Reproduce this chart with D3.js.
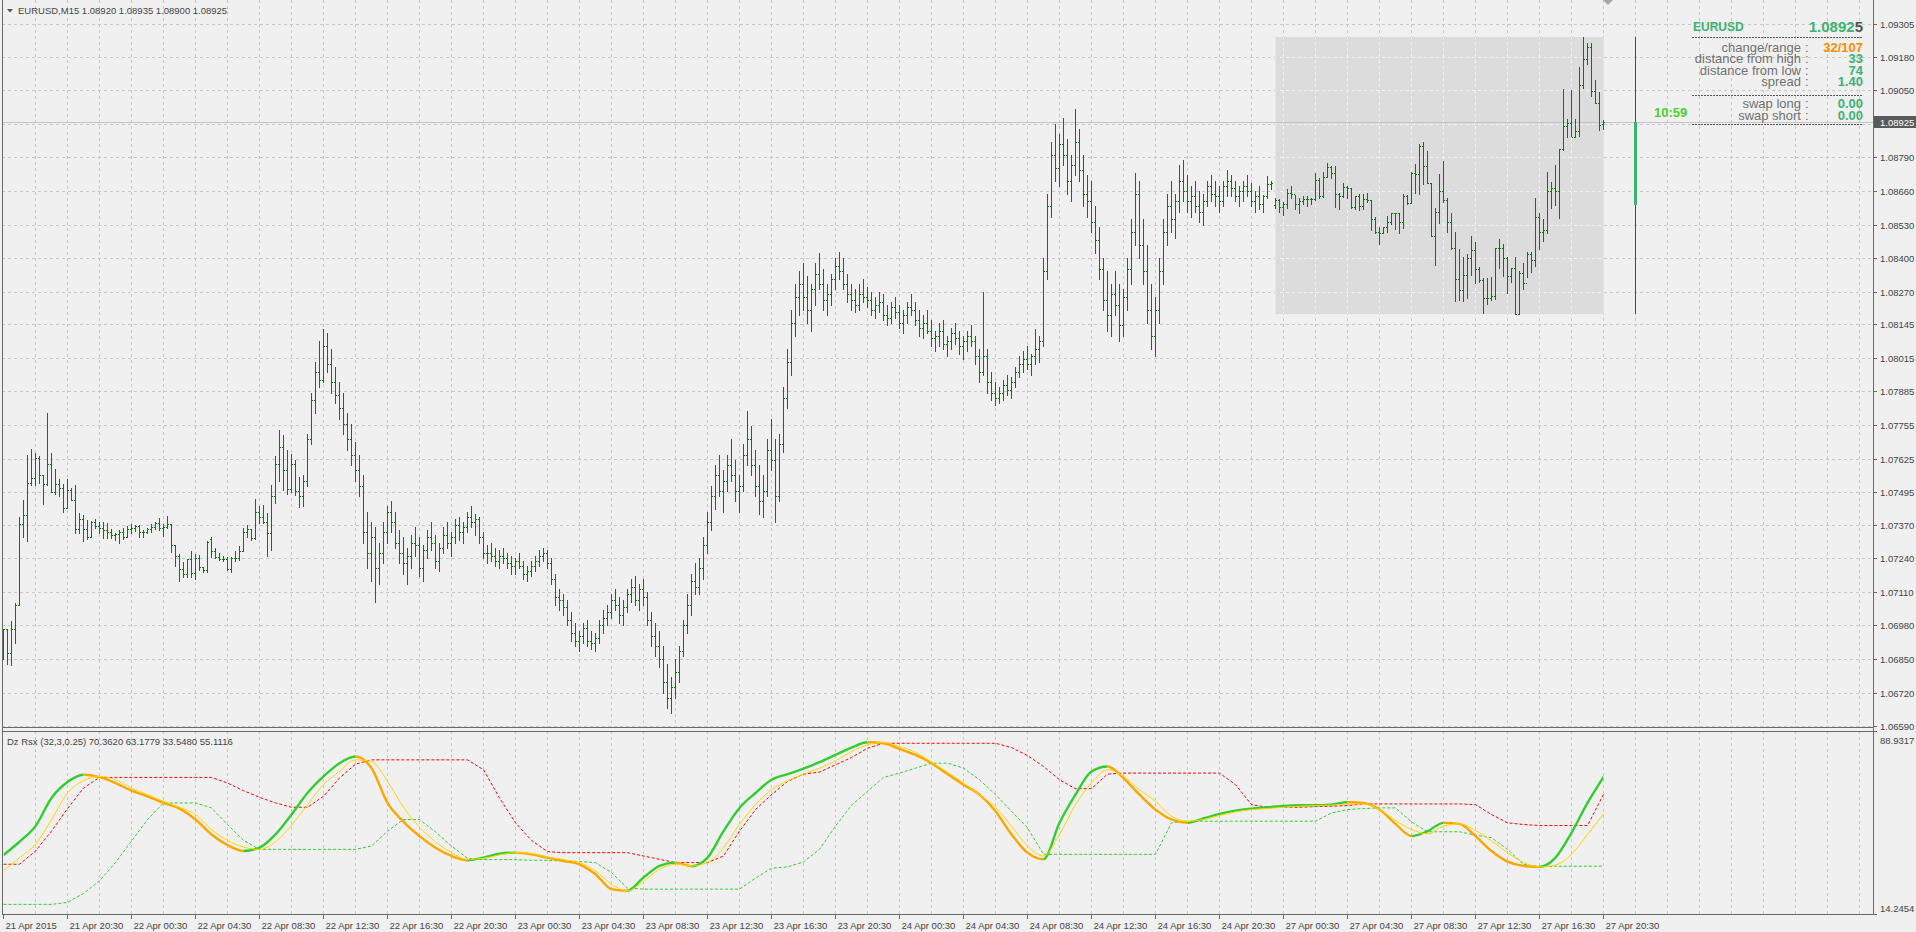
<!DOCTYPE html>
<html><head><meta charset="utf-8">
<script src="https://cdn.jsdelivr.net/npm/d3@7"></script>
<style>html,body{margin:0;padding:0;background:#f0f0f0;overflow:hidden}svg{display:block}</style>
</head><body><svg id="c" width="1916" height="932"></svg>
<script>
// ---------- DATA ----------
const symbol = "EURUSD,M15";
const lastOHLC = [1.08920, 1.08935, 1.08900, 1.08925];
const priceTicks = ["1.09305","1.09180","1.09050","1.08920","1.08790","1.08660","1.08530","1.08400","1.08270","1.08145","1.08015","1.07885","1.07755","1.07625","1.07495","1.07370","1.07240","1.07110","1.06980","1.06850","1.06720","1.06590"];
const timeLabels = ["21 Apr 2015","21 Apr 20:30","22 Apr 00:30","22 Apr 04:30","22 Apr 08:30","22 Apr 12:30","22 Apr 16:30","22 Apr 20:30","23 Apr 00:30","23 Apr 04:30","23 Apr 08:30","23 Apr 12:30","23 Apr 16:30","23 Apr 20:30","24 Apr 00:30","24 Apr 04:30","24 Apr 08:30","24 Apr 12:30","24 Apr 16:30","24 Apr 20:30","27 Apr 00:30","27 Apr 04:30","27 Apr 08:30","27 Apr 12:30","27 Apr 16:30","27 Apr 20:30"];

// M15 bars, 21 Apr 16:30 .. 27 Apr 20:30 (401 bars)
const open = [
1.06870,1.06965,1.06872,1.06965,1.07057,1.07372,1.07407,1.07532,1.07549,1.07626,1.07562,1.07527,1.07603,1.07497,1.07526,1.07513,1.07433,1.07504,1.07465,1.07352,1.07390,1.07352,1.07323,1.07379,1.07366,1.07358,1.07349,1.07340,1.07330,1.07334,1.07340,1.07320,1.07352,1.07358,1.07365,1.07340,1.07343,1.07352,1.07362,1.07375,1.07358,1.07362,1.07371,1.07291,1.07249,1.07198,1.07178,1.07236,1.07182,1.07240,1.07204,1.07195,1.07314,1.07268,1.07246,1.07236,1.07236,1.07198,1.07240,1.07240,1.07269,1.07340,1.07352,1.07317,1.07418,1.07401,1.07378,1.07336,1.07481,1.07603,1.07669,1.07581,1.07507,1.07603,1.07501,
1.07480,1.07540,1.07700,1.07850,1.07960,1.07930,1.08060,1.07990,1.07920,1.07870,
1.07820,1.07760,1.07700,1.07640,1.07580,1.07520,1.07340,1.07260,1.07320,1.07200,
1.07260,1.07340,1.07420,1.07380,1.07300,1.07260,1.07220,1.07250,1.07300,1.07290,
1.07200,1.07270,1.07320,1.07300,1.07230,1.07280,1.07330,1.07300,1.07320,1.07370,
1.07340,1.07360,1.07400,1.07380,1.07390,1.07320,1.07260,1.07260,1.07250,1.07230,
1.07250,1.07240,1.07220,1.07210,1.07230,1.07210,1.07180,1.07190,1.07210,1.07230,
1.07250,1.07260,1.07220,1.07160,1.07090,1.07080,1.07050,1.07000,1.06950,1.06920,
1.06940,1.06970,1.06920,1.06910,1.06930,1.06980,1.07010,1.07030,1.07080,1.07060,
1.07020,1.07050,1.07100,1.07130,1.07080,1.07120,1.07090,1.07000,1.06940,1.06900,
1.06850,1.06760,1.06700,1.06740,1.06800,1.06880,1.06980,1.07060,1.07150,1.07130,
1.07200,1.07290,1.07380,1.07480,1.07560,1.07500,1.07540,1.07600,1.07560,1.07500,
1.07520,1.07640,1.07700,1.07600,1.07520,1.07460,1.07500,1.07660,1.07620,1.07480,
1.07680,1.07860,1.08000,1.08150,1.08250,1.08300,1.08250,1.08200,1.08280,1.08340,
1.08300,1.08240,1.08260,1.08320,1.08370,1.08350,1.08300,1.08260,1.08240,1.08220,
1.08260,1.08250,1.08240,1.08200,1.08220,1.08230,1.08180,1.08170,1.08210,1.08190,
1.08150,1.08180,1.08210,1.08200,1.08160,1.08130,1.08150,1.08120,1.08090,1.08100,
1.08120,1.08070,1.08080,1.08110,1.08090,1.08060,1.08080,1.08100,1.08080,1.08020,
1.07960,1.08020,1.07920,1.07880,1.07860,1.07880,1.07910,1.07890,1.07920,1.07960,
1.07990,1.08010,1.07990,1.08020,1.08050,1.08080,1.08350,1.08600,1.08800,1.08750,
1.08840,1.08800,1.08700,1.08760,1.08850,1.08740,1.08650,1.08620,1.08540,1.08470,
1.08360,1.08240,1.08180,1.08260,1.08220,1.08140,1.08250,1.08360,1.08500,1.08650,
1.08450,1.08350,1.08200,1.08100,1.08200,1.08350,1.08500,1.08600,1.08550,1.08620,
1.08700,1.08660,1.08620,1.08640,1.08600,1.08580,1.08620,1.08680,1.08650,1.08640,
1.08620,1.08680,1.08700,1.08670,1.08640,1.08660,1.08680,1.08660,1.08620,1.08640,
1.08610,1.08640,1.08687,1.08605,1.08625,1.08597,1.08609,1.08651,1.08647,1.08609,1.08622,1.08628,1.08629,1.08629,1.08702,1.08640,1.08713,1.08751,1.08728,1.08647,1.08640,1.08677,1.08670,1.08597,1.08640,1.08603,1.08628,1.08625,1.08550,1.08500,1.08496,1.08519,1.08541,1.08573,1.08573,1.08539,1.08642,1.08612,1.08728,1.08724,1.08835,1.08758,1.08689,1.08486,1.08577,1.08661,1.08625,1.08539,1.08438,1.08319,1.08277,1.08335,1.08399,1.08432,1.08357,1.08315,1.08247,1.08245,1.08254,1.08438,1.08438,1.08402,1.08331,1.08361,1.08185,1.08344,1.08303,1.08415,1.08393,1.08558,1.08500,1.08509,1.08660,1.08670,1.08660,1.08821,1.08911,1.08921,1.08870,1.08892,1.09070,1.09169,1.09215,1.09048,1.08999,1.08920];
const high = [
1.06965,1.06965,1.06997,1.07066,1.07401,1.07465,1.07639,1.07662,1.07646,1.07635,1.07562,1.07802,1.07647,1.07585,1.07545,1.07526,1.07546,1.07513,1.07523,1.07415,1.07405,1.07388,1.07384,1.07392,1.07379,1.07379,1.07375,1.07353,1.07339,1.07349,1.07358,1.07366,1.07371,1.07369,1.07369,1.07349,1.07358,1.07371,1.07378,1.07397,1.07371,1.07403,1.07372,1.07291,1.07255,1.07224,1.07237,1.07266,1.07255,1.07253,1.07204,1.07307,1.07320,1.07278,1.07259,1.07250,1.07246,1.07246,1.07268,1.07285,1.07358,1.07369,1.07353,1.07469,1.07442,1.07446,1.07414,1.07521,1.07635,1.07736,1.07717,1.07659,1.07643,1.07620,1.07552,
1.07560,1.07720,1.07880,1.08000,1.08080,1.08126,1.08110,1.08050,1.07980,1.07920,
1.07880,1.07800,1.07760,1.07690,1.07640,1.07560,1.07420,1.07380,1.07360,1.07300,
1.07380,1.07440,1.07460,1.07420,1.07350,1.07320,1.07280,1.07330,1.07360,1.07320,
1.07290,1.07350,1.07380,1.07330,1.07300,1.07360,1.07380,1.07340,1.07390,1.07400,
1.07380,1.07420,1.07440,1.07410,1.07400,1.07340,1.07290,1.07300,1.07280,1.07270,
1.07280,1.07260,1.07250,1.07240,1.07260,1.07230,1.07210,1.07230,1.07250,1.07270,
1.07280,1.07270,1.07240,1.07180,1.07120,1.07100,1.07080,1.07030,1.06990,1.06960,
1.06990,1.07000,1.06960,1.06950,1.07000,1.07040,1.07060,1.07100,1.07120,1.07090,
1.07080,1.07120,1.07160,1.07170,1.07140,1.07160,1.07110,1.07030,1.06990,1.06960,
1.06900,1.06830,1.06780,1.06850,1.06900,1.07000,1.07100,1.07180,1.07220,1.07240,
1.07320,1.07420,1.07520,1.07600,1.07640,1.07580,1.07640,1.07700,1.07620,1.07560,
1.07680,1.07810,1.07750,1.07660,1.07600,1.07560,1.07700,1.07780,1.07700,1.07720,
1.07900,1.08050,1.08200,1.08300,1.08350,1.08380,1.08330,1.08300,1.08380,1.08420,
1.08360,1.08300,1.08340,1.08400,1.08424,1.08400,1.08340,1.08300,1.08280,1.08300,
1.08320,1.08290,1.08270,1.08250,1.08270,1.08260,1.08220,1.08230,1.08250,1.08220,
1.08200,1.08230,1.08260,1.08230,1.08200,1.08180,1.08200,1.08160,1.08120,1.08150,
1.08160,1.08100,1.08130,1.08150,1.08120,1.08100,1.08120,1.08140,1.08100,1.08050,
1.08268,1.08050,1.07960,1.07920,1.07900,1.07930,1.07950,1.07940,1.07980,1.08020,
1.08040,1.08060,1.08030,1.08126,1.08100,1.08400,1.08650,1.08850,1.08920,1.08880,
1.08944,1.08860,1.08800,1.08977,1.08900,1.08800,1.08720,1.08700,1.08600,1.08520,
1.08400,1.08350,1.08300,1.08350,1.08300,1.08280,1.08400,1.08550,1.08730,1.08700,
1.08550,1.08450,1.08300,1.08250,1.08400,1.08550,1.08650,1.08700,1.08650,1.08760,
1.08780,1.08720,1.08680,1.08700,1.08660,1.08650,1.08700,1.08720,1.08700,1.08680,
1.08700,1.08740,1.08720,1.08700,1.08680,1.08700,1.08720,1.08690,1.08660,1.08680,
1.08644,1.08718,1.08698,1.08634,1.08628,1.08618,1.08666,1.08679,1.08644,1.08634,1.08642,1.08640,1.08634,1.08731,1.08711,1.08735,1.08767,1.08758,1.08758,1.08653,1.08692,1.08680,1.08670,1.08642,1.08648,1.08648,1.08651,1.08625,1.08558,1.08519,1.08522,1.08563,1.08576,1.08576,1.08576,1.08648,1.08644,1.08732,1.08764,1.08840,1.08848,1.08814,1.08692,1.08595,1.08726,1.08776,1.08631,1.08576,1.08501,1.08435,1.08403,1.08416,1.08486,1.08464,1.08367,1.08325,1.08325,1.08326,1.08438,1.08474,1.08455,1.08403,1.08361,1.08403,1.08350,1.08380,1.08423,1.08423,1.08631,1.08576,1.08550,1.08735,1.08693,1.08760,1.08822,1.09054,1.08938,1.09050,1.08938,1.09138,1.09255,1.09231,1.09231,1.09089,1.09044,1.08935];
const low = [
1.06849,1.06831,1.06825,1.06911,1.07057,1.07321,1.07308,1.07521,1.07521,1.07532,1.07449,1.07521,1.07494,1.07488,1.07482,1.07418,1.07433,1.07463,1.07336,1.07336,1.07308,1.07314,1.07323,1.07356,1.07339,1.07317,1.07317,1.07317,1.07311,1.07300,1.07313,1.07323,1.07336,1.07345,1.07323,1.07323,1.07336,1.07340,1.07353,1.07347,1.07327,1.07356,1.07263,1.07211,1.07153,1.07166,1.07166,1.07166,1.07160,1.07195,1.07186,1.07186,1.07246,1.07240,1.07233,1.07227,1.07195,1.07188,1.07227,1.07233,1.07269,1.07323,1.07311,1.07314,1.07375,1.07375,1.07250,1.07272,1.07452,1.07540,1.07504,1.07488,1.07497,1.07485,1.07436,
1.07440,1.07520,1.07680,1.07800,1.07900,1.07920,1.07960,1.07880,1.07840,1.07780,
1.07720,1.07660,1.07600,1.07540,1.07480,1.07300,1.07200,1.07150,1.07070,1.07140,
1.07220,1.07300,1.07340,1.07280,1.07220,1.07180,1.07140,1.07200,1.07250,1.07170,
1.07150,1.07240,1.07270,1.07200,1.07190,1.07260,1.07280,1.07250,1.07300,1.07310,
1.07300,1.07340,1.07360,1.07330,1.07300,1.07240,1.07220,1.07230,1.07210,1.07200,
1.07220,1.07200,1.07180,1.07180,1.07200,1.07160,1.07150,1.07170,1.07190,1.07210,
1.07230,1.07200,1.07140,1.07060,1.07040,1.07020,1.06980,1.06920,1.06900,1.06880,
1.06910,1.06900,1.06890,1.06880,1.06910,1.06950,1.06980,1.07010,1.07040,1.06990,
1.06980,1.07030,1.07070,1.07060,1.07040,1.07060,1.06980,1.06900,1.06860,1.06820,
1.06720,1.06660,1.06642,1.06700,1.06760,1.06860,1.06950,1.07020,1.07100,1.07100,
1.07160,1.07260,1.07350,1.07430,1.07480,1.07420,1.07500,1.07540,1.07460,1.07420,
1.07500,1.07600,1.07560,1.07480,1.07410,1.07400,1.07480,1.07580,1.07380,1.07460,
1.07650,1.07820,1.07950,1.08100,1.08180,1.08200,1.08150,1.08120,1.08220,1.08280,
1.08200,1.08180,1.08220,1.08280,1.08320,1.08280,1.08230,1.08200,1.08190,1.08200,
1.08230,1.08210,1.08180,1.08170,1.08190,1.08160,1.08140,1.08150,1.08170,1.08130,
1.08110,1.08150,1.08180,1.08140,1.08100,1.08090,1.08110,1.08060,1.08040,1.08060,
1.08050,1.08020,1.08050,1.08070,1.08030,1.08010,1.08040,1.08060,1.07990,1.07920,
1.07950,1.07880,1.07850,1.07833,1.07840,1.07850,1.07870,1.07860,1.07900,1.07940,
1.07960,1.07970,1.07950,1.07990,1.08000,1.08060,1.08320,1.08560,1.08700,1.08680,
1.08760,1.08650,1.08620,1.08720,1.08700,1.08600,1.08560,1.08500,1.08420,1.08320,
1.08200,1.08120,1.08100,1.08180,1.08080,1.08100,1.08200,1.08300,1.08450,1.08400,
1.08300,1.08150,1.08050,1.08022,1.08150,1.08300,1.08450,1.08500,1.08480,1.08580,
1.08620,1.08580,1.08560,1.08580,1.08540,1.08530,1.08600,1.08620,1.08600,1.08580,
1.08600,1.08640,1.08640,1.08620,1.08600,1.08620,1.08640,1.08600,1.08580,1.08590,
1.08580,1.08631,1.08666,1.08595,1.08577,1.08567,1.08595,1.08631,1.08589,1.08576,1.08609,1.08603,1.08608,1.08625,1.08631,1.08638,1.08713,1.08709,1.08599,1.08590,1.08638,1.08631,1.08595,1.08589,1.08586,1.08590,1.08616,1.08509,1.08496,1.08455,1.08496,1.08503,1.08531,1.08512,1.08499,1.08518,1.08609,1.08612,1.08651,1.08648,1.08687,1.08689,1.08486,1.08374,1.08537,1.08616,1.08500,1.08434,1.08234,1.08238,1.08234,1.08247,1.08335,1.08305,1.08309,1.08189,1.08223,1.08238,1.08241,1.08361,1.08331,1.08267,1.08309,1.08185,1.08185,1.08279,1.08328,1.08348,1.08371,1.08434,1.08466,1.08496,1.08593,1.08606,1.08557,1.08820,1.08867,1.08872,1.08867,1.08874,1.09059,1.09153,1.09027,1.08999,1.08896,1.08900];
const close = [
1.06965,1.06872,1.06965,1.07057,1.07372,1.07407,1.07532,1.07549,1.07626,1.07562,1.07527,1.07603,1.07497,1.07526,1.07513,1.07433,1.07504,1.07465,1.07352,1.07390,1.07352,1.07323,1.07379,1.07366,1.07358,1.07349,1.07340,1.07330,1.07334,1.07340,1.07320,1.07352,1.07358,1.07365,1.07340,1.07343,1.07352,1.07362,1.07375,1.07358,1.07362,1.07371,1.07291,1.07249,1.07198,1.07178,1.07236,1.07182,1.07240,1.07204,1.07195,1.07304,1.07268,1.07246,1.07236,1.07236,1.07198,1.07240,1.07240,1.07269,1.07340,1.07352,1.07317,1.07418,1.07401,1.07378,1.07336,1.07481,1.07603,1.07669,1.07581,1.07507,1.07603,1.07501,1.07480,
1.07540,1.07700,1.07850,1.07960,1.07930,1.08060,1.07990,1.07920,1.07870,1.07820,
1.07760,1.07700,1.07640,1.07580,1.07520,1.07340,1.07260,1.07320,1.07200,1.07260,
1.07340,1.07420,1.07380,1.07300,1.07260,1.07220,1.07250,1.07300,1.07290,1.07200,
1.07270,1.07320,1.07300,1.07230,1.07280,1.07330,1.07300,1.07320,1.07370,1.07340,
1.07360,1.07400,1.07380,1.07390,1.07320,1.07260,1.07260,1.07250,1.07230,1.07250,
1.07240,1.07220,1.07210,1.07230,1.07210,1.07180,1.07190,1.07210,1.07230,1.07250,
1.07260,1.07220,1.07160,1.07090,1.07080,1.07050,1.07000,1.06950,1.06920,1.06940,
1.06970,1.06920,1.06910,1.06930,1.06980,1.07010,1.07030,1.07080,1.07060,1.07020,
1.07050,1.07100,1.07130,1.07080,1.07120,1.07090,1.07000,1.06940,1.06900,1.06850,
1.06760,1.06700,1.06740,1.06800,1.06880,1.06980,1.07060,1.07150,1.07130,1.07200,
1.07290,1.07380,1.07480,1.07560,1.07500,1.07540,1.07600,1.07560,1.07500,1.07520,
1.07640,1.07700,1.07600,1.07520,1.07460,1.07500,1.07660,1.07620,1.07480,1.07680,
1.07860,1.08000,1.08150,1.08250,1.08300,1.08250,1.08200,1.08280,1.08340,1.08300,
1.08240,1.08260,1.08320,1.08370,1.08350,1.08300,1.08260,1.08240,1.08220,1.08260,
1.08250,1.08240,1.08200,1.08220,1.08230,1.08180,1.08170,1.08210,1.08190,1.08150,
1.08180,1.08210,1.08200,1.08160,1.08130,1.08150,1.08120,1.08090,1.08100,1.08120,
1.08070,1.08080,1.08110,1.08090,1.08060,1.08080,1.08100,1.08080,1.08020,1.07960,
1.08020,1.07920,1.07880,1.07860,1.07880,1.07910,1.07890,1.07920,1.07960,1.07990,
1.08010,1.07990,1.08020,1.08050,1.08080,1.08350,1.08600,1.08800,1.08750,1.08840,
1.08800,1.08700,1.08760,1.08850,1.08740,1.08650,1.08620,1.08540,1.08470,1.08360,
1.08240,1.08180,1.08260,1.08220,1.08140,1.08250,1.08360,1.08500,1.08650,1.08450,
1.08350,1.08200,1.08100,1.08200,1.08350,1.08500,1.08600,1.08550,1.08620,1.08700,
1.08660,1.08620,1.08640,1.08600,1.08580,1.08620,1.08680,1.08650,1.08640,1.08620,
1.08680,1.08700,1.08670,1.08640,1.08660,1.08680,1.08660,1.08620,1.08640,1.08610,
1.08640,1.08687,1.08689,1.08625,1.08597,1.08609,1.08651,1.08647,1.08609,1.08622,1.08628,1.08629,1.08629,1.08702,1.08640,1.08713,1.08751,1.08728,1.08647,1.08640,1.08677,1.08670,1.08597,1.08640,1.08603,1.08628,1.08625,1.08550,1.08500,1.08496,1.08519,1.08541,1.08573,1.08573,1.08539,1.08642,1.08612,1.08728,1.08724,1.08835,1.08758,1.08689,1.08486,1.08577,1.08661,1.08625,1.08539,1.08438,1.08319,1.08277,1.08335,1.08399,1.08432,1.08357,1.08315,1.08247,1.08245,1.08254,1.08438,1.08438,1.08402,1.08331,1.08361,1.08185,1.08344,1.08303,1.08415,1.08393,1.08558,1.08500,1.08509,1.08660,1.08670,1.08660,1.08821,1.08911,1.08921,1.08870,1.08892,1.09070,1.09169,1.09215,1.09048,1.08999,1.08915,1.08925];

// daily info
const dayOpen = 1.08605, dayHigh = 1.09255, dayLow = 1.08185, bid = 1.08925;
const dayStartBar = 318;
const infoRows = [["change/range","32/107"],["distance from high","33"],["distance from low","74"],["spread","1.40"]];
const swapRows = [["swap long","0.00"],["swap short","0.00"]];
const timeLeft = "10:59";

// indicator (Dz Rsx), sampled every 4 bars (bar 0..400)
const indTitle = "Dz Rsx (32,3,0.25) 70.3620 63.1779 33.5480 55.1116";
const indMin = 14.2454, indMax = 88.9317;
const rsx = [38.18,43.65,50.08,61.71,68.28,71.29,70.33,67.87,64.72,62.39,59.66,57.33,52.82,46.66,42.29,39.82,41.19,46.66,54.87,63.76,70.60,76.07,78.81,74.02,59.66,51.86,45.98,41.19,37.77,35.99,37.09,38.73,39.14,38.46,37.09,35.72,34.35,30.25,24.09,23.41,28.88,33.67,35.04,33.53,37.09,48.03,57.61,63.76,69.23,71.56,73.80,76.48,79.49,82.50,84.69,84.28,81.95,79.49,76.07,71.56,67.18,63.08,56.24,46.66,39.14,36.40,51.45,63.08,72.65,74.70,69.92,63.08,56.92,52.82,51.45,53.23,55.14,56.51,57.33,57.88,58.43,58.70,58.70,58.97,59.93,59.66,56.92,51.04,45.98,48.03,51.45,51.04,45.98,39.82,35.45,33.67,33.26,37.09,47.35,59.66,70.36];
const signal = [31.62,37.09,42.56,52.82,63.76,68.82,70.60,69.23,65.81,63.08,60.34,57.88,54.87,48.71,44.20,41.46,40.51,43.65,50.49,58.97,67.18,72.65,77.44,76.76,68.55,57.88,49.67,43.65,39.14,36.40,36.81,38.18,39.14,38.87,37.36,36.27,35.04,31.62,26.14,23.41,27.24,32.30,34.35,33.67,35.04,41.19,50.77,58.97,65.13,68.82,71.56,74.02,77.03,80.86,83.60,84.69,82.91,80.59,76.48,72.38,67.87,63.08,57.88,50.08,41.87,37.77,46.66,58.97,67.87,73.34,70.60,65.13,60.34,54.19,52.13,52.82,54.46,55.96,56.92,57.33,57.88,58.29,58.56,58.70,59.25,59.25,56.92,52.41,48.71,46.94,50.08,51.04,48.30,43.93,39.14,35.04,33.26,34.08,38.46,46.66,55.11];
const upperLevel = [34.35,34.35,39.82,48.03,57.33,65.81,70.19,70.19,70.19,70.19,70.19,70.19,70.19,70.19,67.87,64.72,61.98,59.66,57.88,57.88,62.39,69.92,75.66,77.44,77.44,77.44,77.44,77.44,77.44,77.44,73.34,61.71,51.45,44.20,39.55,39.14,39.14,39.14,39.14,39.14,37.77,36.40,35.04,35.04,35.04,37.77,48.03,56.92,63.08,68.55,71.56,72.38,75.39,78.40,82.23,84.28,84.28,84.28,84.28,84.28,84.28,84.28,84.28,82.50,79.22,74.70,69.23,65.54,65.54,71.56,71.97,71.97,71.97,71.97,71.97,71.97,71.97,67.18,58.97,57.88,57.88,57.88,58.15,58.29,58.56,59.25,59.25,59.25,59.25,59.25,59.25,59.25,58.97,54.87,51.45,50.77,50.36,50.36,50.36,50.36,63.18];
const lowerLevel = [17.80,17.80,17.80,17.80,18.62,22.31,27.51,35.04,43.93,52.82,59.66,59.66,59.66,57.61,50.77,44.20,40.51,40.51,40.51,40.51,40.51,40.51,40.51,41.87,48.03,52.82,52.82,47.76,41.87,36.81,36.27,36.27,36.27,36.00,36.00,35.70,35.45,35.04,30.93,24.50,24.09,24.09,24.09,24.09,24.09,24.09,24.09,28.61,32.71,33.26,35.31,40.51,50.08,58.70,64.45,70.19,71.97,74.02,76.07,76.07,74.02,69.23,63.08,56.24,49.40,38.46,38.46,38.46,38.46,38.46,38.46,38.46,38.46,51.45,52.13,52.13,52.13,52.13,52.13,52.13,52.13,52.13,52.13,55.55,56.92,57.33,57.61,57.61,51.86,47.76,47.76,47.76,46.39,45.29,40.51,34.35,33.26,33.55,33.55,33.55,33.55];

// ---------- LAYOUT ----------
const W = 1916, H = 932;
const plotL = 2, plotR = 1873, mainTop = 0, mainBot = 727, indTop = 731, indBot = 914;
const BAR = "#008000", GRID = "#c8c8c8", BORDER = "#6a6a6a", TXT = "#444444";
const FONT = "'Liberation Sans', Arial, sans-serif";

const svg = d3.select("#c");
svg.append("rect").attr("width", W).attr("height", H).attr("fill", "#f0f0f0");

const x = d3.scaleLinear().domain([0, 400]).range([3.5, 1603.5]);
const y = d3.scaleLinear().domain([1.06590, 1.09305]).range([726.2, 24.2]);
const yi = d3.scaleLinear().domain([indMin, indMax]).range([913, 732]);
const px = v => Math.round(v);

const defs = svg.append("defs");
defs.append("clipPath").attr("id", "mainClip").append("rect")
  .attr("x", plotL + 1).attr("y", mainTop).attr("width", plotR - plotL - 1).attr("height", mainBot - mainTop);
defs.append("clipPath").attr("id", "indClip").append("rect")
  .attr("x", plotL + 1).attr("y", indTop + 1).attr("width", plotR - plotL - 1).attr("height", indBot - indTop - 1);

// grid
const nGrid = Math.floor((plotR - 3.5) / 32);
const vgrid = d3.range(1, nGrid + 1).map(k => k * 8);
function drawVGrid(sel, y0, y1, color) {
  sel.selectAll(null).data(vgrid).enter().append("line")
    .attr("x1", d => x(d)).attr("x2", d => x(d)).attr("y1", y0).attr("y2", y1)
    .attr("stroke", color).attr("stroke-dasharray", "3,3").attr("shape-rendering", "crispEdges");
}
function drawHGrid(sel, color) {
  sel.selectAll(null).data(priceTicks).enter().append("line")
    .attr("x1", plotL).attr("x2", plotR).attr("y1", d => px(y(+d)) + 0.5).attr("y2", d => px(y(+d)) + 0.5)
    .attr("stroke", color).attr("stroke-dasharray", "3,3").attr("shape-rendering", "crispEdges");
}
const gMain = svg.append("g").attr("clip-path", "url(#mainClip)");
drawVGrid(gMain, mainTop, mainBot, GRID);
drawHGrid(gMain, GRID);

// day range box
const boxX0 = x(dayStartBar), boxX1 = x(400);
const boxY0 = px(y(dayHigh)), boxY1 = px(y(dayLow));
gMain.append("rect").attr("x", boxX0).attr("y", boxY0).attr("width", boxX1 - boxX0).attr("height", boxY1 - boxY0).attr("fill", "#dcdcdc");
defs.append("clipPath").attr("id", "boxClip").append("rect")
  .attr("x", boxX0).attr("y", boxY0).attr("width", boxX1 - boxX0).attr("height", boxY1 - boxY0);
const gBoxGrid = gMain.append("g").attr("clip-path", "url(#boxClip)");
drawVGrid(gBoxGrid, mainTop, mainBot, "#f2f2f2");
drawHGrid(gBoxGrid, "#f2f2f2");

// bid line
gMain.append("line").attr("x1", plotL).attr("x2", plotR).attr("y1", px(y(bid)) + 0.5).attr("y2", px(y(bid)) + 0.5)
  .attr("stroke", "#c4c4c4").attr("shape-rendering", "crispEdges");

// OHLC bars
const bars = d3.range(close.length).map(i => ({i, o: open[i], h: high[i], l: low[i], c: close[i]}));
const gBars = gMain.append("g").attr("fill", BAR).attr("shape-rendering", "crispEdges");
bars.forEach(b => {
  const cx = Math.floor(x(b.i));
  const yh = px(y(b.h)), yl = px(y(b.l));
  gBars.append("rect").attr("x", cx).attr("y", yh).attr("width", 1).attr("height", Math.max(1, yl - yh + 1));
  gBars.append("rect").attr("x", cx - 1).attr("y", px(y(b.o))).attr("width", 1).attr("height", 1);
  gBars.append("rect").attr("x", cx + 1).attr("y", px(y(b.c))).attr("width", 1).attr("height", 1);
});

// daily candle on the right
const dcx = Math.floor(x(408));
gMain.append("rect").attr("x", dcx).attr("y", boxY0).attr("width", 1).attr("height", boxY1 - boxY0).attr("fill", BAR);
gMain.append("rect").attr("x", dcx - 1).attr("y", px(y(bid))).attr("width", 3)
  .attr("height", px(y(dayOpen)) - px(y(bid))).attr("fill", "#3cb371");

// shift marker
svg.append("path").attr("d", "M1603,0 L1613,0 L1608,5 Z").attr("fill", "#a8a8a8");

// ---------- indicator ----------
const gInd = svg.append("g").attr("clip-path", "url(#indClip)");
drawVGrid(gInd, indTop, indBot, GRID);
const idx = d3.range(0, 401, 4);
const mk = arr => arr.map((v, k) => ({i: idx[k], v}));
const lineM = d3.line().x(d => x(d.i)).y(d => yi(d.v)).curve(d3.curveMonotoneX);
const lineL = d3.line().x(d => x(d.i)).y(d => yi(d.v));
gInd.append("path").attr("d", lineL(mk(upperLevel))).attr("fill", "none").attr("stroke", "#ff0000").attr("stroke-width", 1).attr("stroke-dasharray", "3,2");
gInd.append("path").attr("d", lineL(mk(lowerLevel))).attr("fill", "none").attr("stroke", "#32cd32").attr("stroke-width", 1).attr("stroke-dasharray", "3,2");

// thick RSX coloured by direction
const rsxPts = mk(rsx);
const runs = [];
for (let k = 1; k < rsxPts.length; k++) {
  const up = rsxPts[k].v >= rsxPts[k - 1].v;
  if (runs.length && runs[runs.length - 1].up === up) runs[runs.length - 1].b = k;
  else runs.push({a: k - 1, b: k, up});
}
runs.forEach((r, n) => {
  const id = "rsxclip" + n;
  defs.append("clipPath").attr("id", id).append("rect")
    .attr("x", x(rsxPts[r.a].i)).attr("y", indTop).attr("width", x(rsxPts[r.b].i) - x(rsxPts[r.a].i)).attr("height", indBot - indTop);
  gInd.append("g").attr("clip-path", `url(#${id})`).append("path").attr("d", lineM(rsxPts))
    .attr("fill", "none").attr("stroke", r.up ? "#32cd32" : "#ffa500").attr("stroke-width", 2.4);
});
gInd.append("path").attr("d", lineM(mk(signal))).attr("fill", "none").attr("stroke", "#ffd700").attr("stroke-width", 1);

// ---------- frame ----------
const fr = svg.append("g").attr("stroke", BORDER).attr("shape-rendering", "crispEdges");
fr.append("line").attr("x1", 2.5).attr("x2", 2.5).attr("y1", 0).attr("y2", indBot + 0.5);
fr.append("line").attr("x1", plotR + 0.5).attr("x2", plotR + 0.5).attr("y1", 0).attr("y2", indBot + 0.5);
fr.append("line").attr("x1", 2).attr("x2", plotR + 1).attr("y1", mainBot + 0.5).attr("y2", mainBot + 0.5);
fr.append("line").attr("x1", 2).attr("x2", plotR + 1).attr("y1", indTop + 0.5).attr("y2", indTop + 0.5);
fr.append("line").attr("x1", 2).attr("x2", plotR + 1).attr("y1", indBot + 0.5).attr("y2", indBot + 0.5);

// price axis
const ax = svg.append("g").attr("font-family", FONT).attr("font-size", "9.5px").attr("fill", TXT);
priceTicks.forEach(t => {
  const yy = px(y(+t)) + 0.5;
  fr.append("line").attr("x1", plotR).attr("x2", plotR + 4).attr("y1", yy).attr("y2", yy);
  ax.append("text").attr("x", 1880).attr("y", yy + 3.8).text(t);
});
// current price box
const yb = px(y(bid));
svg.append("rect").attr("x", plotR + 1).attr("y", yb - 6).attr("width", W - plotR - 1).attr("height", 12).attr("fill", "#5a5a5a");
svg.append("text").attr("x", 1880).attr("y", yb + 4).attr("font-family", FONT).attr("font-size", "9.5px").attr("fill", "#ffffff").text(d3.format(".5f")(bid));

// indicator axis
ax.append("text").attr("x", 1880).attr("y", 743.5).text(indMax.toFixed(4));
ax.append("text").attr("x", 1880).attr("y", 911.5).text(indMin.toFixed(4));
fr.append("line").attr("x1", plotR).attr("x2", plotR + 4).attr("y1", indTop + 0.5).attr("y2", indTop + 0.5);
fr.append("line").attr("x1", plotR).attr("x2", plotR + 4).attr("y1", indBot + 0.5).attr("y2", indBot + 0.5);

// time axis
timeLabels.forEach((t, k) => {
  const xx = Math.floor(x(k * 16)) + 0.5;
  fr.append("line").attr("x1", xx).attr("x2", xx).attr("y1", indBot).attr("y2", indBot + 5);
  ax.append("text").attr("x", xx + 2).attr("y", 928.5).text(t);
});

// header
svg.append("path").attr("d", "M7,9 L13,9 L10,12.5 Z").attr("fill", "#555");
svg.append("text").attr("x", 18).attr("y", 14).attr("font-family", FONT).attr("font-size", "9.5px").attr("fill", TXT)
  .text(symbol + "  " + lastOHLC.map(d3.format(".5f")).join(" "));
svg.append("text").attr("x", 7).attr("y", 744.5).attr("font-family", FONT).attr("font-size", "9.5px").attr("fill", TXT).text(indTitle);

// info panel
const ip = svg.append("g").attr("font-family", FONT);
ip.append("text").attr("x", 1693).attr("y", 30.5).attr("font-size", "12px").attr("font-weight", "bold").attr("fill", "#3cb371").text("EURUSD");
const bidStr = d3.format(".5f")(bid);
const bt = ip.append("text").attr("x", 1863).attr("y", 31.5).attr("text-anchor", "end").attr("font-size", "15px").attr("font-weight", "bold");
bt.append("tspan").attr("fill", "#3cb371").text(bidStr.slice(0, -1));
bt.append("tspan").attr("fill", "#555").text(bidStr.slice(-1));
const dash = yy => ip.append("line").attr("x1", 1692).attr("x2", 1863).attr("y1", yy).attr("y2", yy)
  .attr("stroke", "#555").attr("stroke-dasharray", "2,1").attr("shape-rendering", "crispEdges");
dash(37.5); dash(95.5); dash(124.5);
const rowY = [51.5, 63, 74.5, 86];
const LBL = "#707070";
infoRows.forEach((r, k) => {
  ip.append("text").attr("x", 1801).attr("y", rowY[k]).attr("text-anchor", "end").attr("font-size", "13px").attr("fill", LBL).text(r[0]);
  ip.append("text").attr("x", 1805).attr("y", rowY[k]).attr("font-size", "13px").attr("fill", LBL).text(":");
  ip.append("text").attr("x", 1863).attr("y", rowY[k]).attr("text-anchor", "end").attr("font-size", "13px").attr("font-weight", "bold")
    .attr("fill", k === 0 ? "#ff8c00" : "#3cb371").text(r[1]);
});
const swapY = [108, 119.5];
swapRows.forEach((r, k) => {
  ip.append("text").attr("x", 1801).attr("y", swapY[k]).attr("text-anchor", "end").attr("font-size", "13px").attr("fill", LBL).text(r[0]);
  ip.append("text").attr("x", 1805).attr("y", swapY[k]).attr("font-size", "13px").attr("fill", LBL).text(":");
  ip.append("text").attr("x", 1863).attr("y", swapY[k]).attr("text-anchor", "end").attr("font-size", "13px").attr("font-weight", "bold").attr("fill", "#3cb371").text(r[1]);
});
ip.append("text").attr("x", 1654).attr("y", 117).attr("font-size", "13px").attr("font-weight", "bold").attr("fill", "#4cd12e").text(timeLeft);
</script></body></html>
